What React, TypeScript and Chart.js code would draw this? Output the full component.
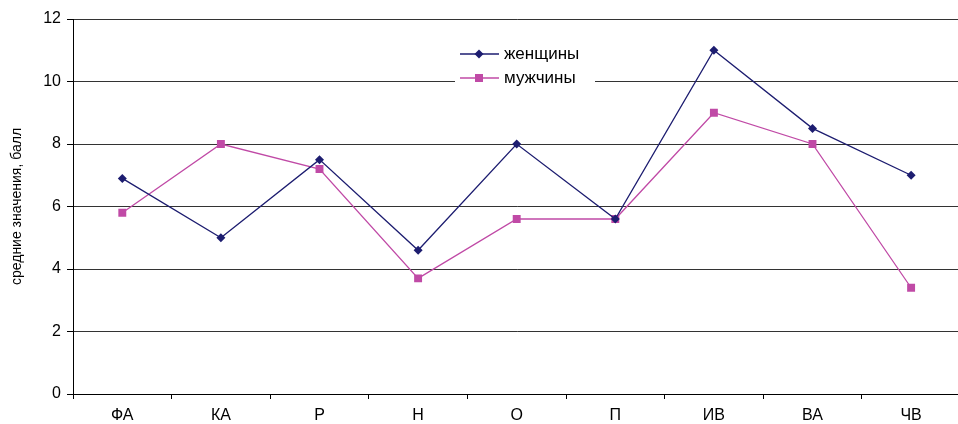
import React, { useEffect, useRef } from "react";
import { Chart, registerables } from "chart.js";

Chart.register(...registerables);

const categories = ["ФА", "КА", "Р", "Н", "О", "П", "ИВ", "ВА", "ЧВ"];
const women = [6.9, 5.0, 7.5, 4.6, 8.0, 5.6, 11.0, 8.5, 7.0];
const men = [5.8, 8.0, 7.2, 3.7, 5.6, 5.6, 9.0, 8.0, 3.4];
const seriesNames = ["женщины", "мужчины"];
const yTitle = "средние значения, балл";

const NAVY = "#1d1d70";
const PINK = "#c04aa6";
const FONT = "'Liberation Sans', Arial, sans-serif";

const legendPlugin = {
  id: "insideLegend",
  afterDraw(chart: any) {
    const ctx = chart.ctx;
    ctx.save();
    ctx.fillStyle = "#ffffff";
    ctx.fillRect(455, 40, 140, 50);
    const rows = [54, 78];
    chart.data.datasets.forEach((ds: any, i: number) => {
      const y = rows[i];
      ctx.strokeStyle = ds.borderColor;
      ctx.lineWidth = 1.3;
      ctx.beginPath();
      ctx.moveTo(460, y);
      ctx.lineTo(499, y);
      ctx.stroke();
      ctx.fillStyle = ds.pointBackgroundColor;
      ctx.beginPath();
      if (ds.pointStyle === "rectRot") {
        const r = 4.5;
        ctx.moveTo(479, y - r);
        ctx.lineTo(479 + r, y);
        ctx.lineTo(479, y + r);
        ctx.lineTo(479 - r, y);
        ctx.closePath();
      } else {
        ctx.rect(475, y - 4, 8, 8);
      }
      ctx.fill();
      ctx.fillStyle = "#000";
      ctx.font = `17px ${FONT}`;
      ctx.textBaseline = "middle";
      ctx.textAlign = "left";
      ctx.fillText(ds.label, 504, y);
    });
    ctx.restore();
  },
};

export default function App() {
  const ref = useRef<HTMLCanvasElement>(null);
  useEffect(() => {
    if (!ref.current) return;
    const chart = new Chart(ref.current, {
      type: "line",
      data: {
        labels: categories,
        datasets: [
          {
            label: seriesNames[0],
            data: women,
            borderColor: NAVY,
            backgroundColor: NAVY,
            pointBackgroundColor: NAVY,
            pointBorderColor: NAVY,
            pointStyle: "rectRot",
            pointRadius: 4.5,
            pointBorderWidth: 0,
            borderWidth: 1.3,
            tension: 0,
          },
          {
            label: seriesNames[1],
            data: men,
            borderColor: PINK,
            backgroundColor: PINK,
            pointBackgroundColor: PINK,
            pointBorderColor: PINK,
            pointStyle: "rect",
            pointRadius: 5.6,
            pointBorderWidth: 0,
            borderWidth: 1.3,
            tension: 0,
          },
        ],
      },
      options: {
        animation: false,
        responsive: false,
        devicePixelRatio: 1,
        layout: { padding: { top: 19, right: 0, left: 0, bottom: 0 } },
        plugins: {
          legend: { display: false },
          tooltip: { enabled: false },
        },
        scales: {
          x: {
            type: "category",
            offset: true,
            grid: {
              offset: true,
              drawOnChartArea: false,
              drawTicks: true,
              tickLength: 5,
              color: "#000",
            },
            border: { color: "#000", width: 1 },
            ticks: {
              color: "#000",
              font: { family: FONT, size: 16 },
              padding: 7,
              maxRotation: 0,
            },
            afterFit(scale: any) {
              scale.height = 30;
            },
          },
          y: {
            min: 0,
            max: 12,
            ticks: {
              stepSize: 2,
              color: "#000",
              font: { family: FONT, size: 16 },
              padding: 6,
            },
            grid: {
              color: "#333",
              lineWidth: 1,
              tickLength: 6,
              tickColor: "#000",
            },
            border: { color: "#000", width: 1 },
            title: {
              display: true,
              text: yTitle,
              color: "#000",
              font: { family: FONT, size: 14 },
              padding: { top: 9, bottom: 0 },
            },
            afterFit(scale: any) {
              scale.width = 73;
            },
          },
        },
      },
      plugins: [legendPlugin],
    });
    return () => chart.destroy();
  }, []);
  return (
    <div
      style={{
        position: "absolute",
        left: 0,
        top: 0,
        width: 958,
        height: 424,
        overflow: "hidden",
        background: "#fff",
      }}
    >
      <canvas ref={ref} width={966} height={424} style={{ display: "block" }} />
    </div>
  );
}
